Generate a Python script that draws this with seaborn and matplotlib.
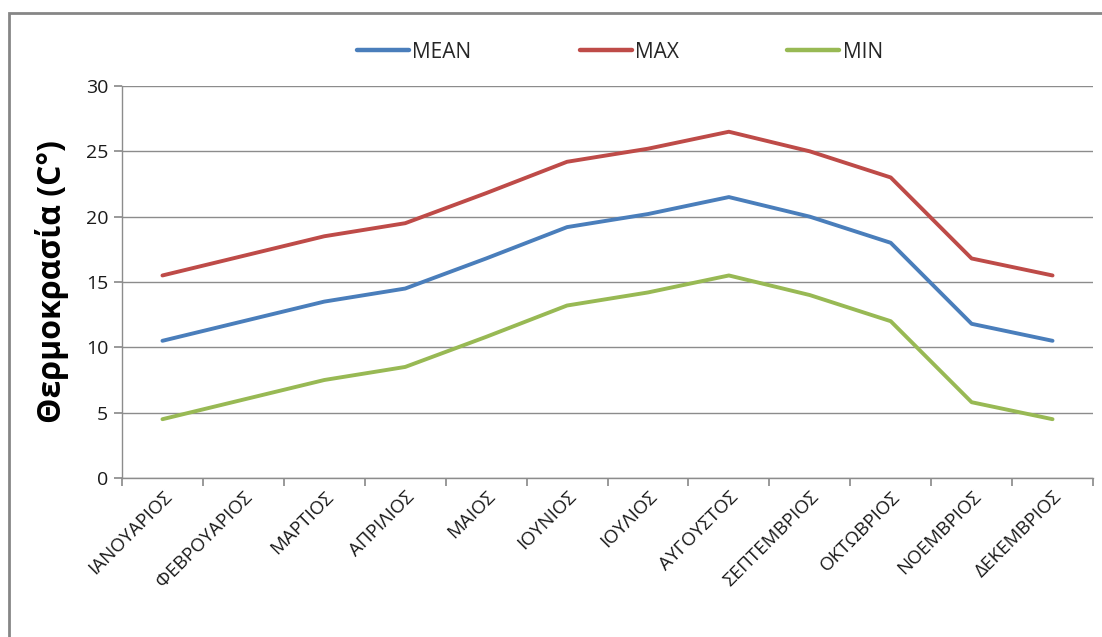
import matplotlib
matplotlib.use("Agg")
import matplotlib.pyplot as plt
import seaborn as sns
import pandas as pd
from matplotlib.patches import Rectangle
from matplotlib.lines import Line2D

months = ["ΙΑΝΟΥΑΡΙΟΣ", "ΦΕΒΡΟΥΑΡΙΟΣ", "ΜΑΡΤΙΟΣ", "ΑΠΡΙΛΙΟΣ", "ΜΑΙΟΣ", "ΙΟΥΝΙΟΣ",
          "ΙΟΥΛΙΟΣ", "ΑΥΓΟΥΣΤΟΣ", "ΣΕΠΤΕΜΒΡΙΟΣ", "ΟΚΤΩΒΡΙΟΣ", "ΝΟΕΜΒΡΙΟΣ", "ΔΕΚΕΜΒΡΙΟΣ"]
mean_vals = [10.5, 12.0, 13.5, 14.5, 16.8, 19.2, 20.2, 21.5, 20.0, 18.0, 11.8, 10.5]
max_vals = [15.5, 17.0, 18.5, 19.5, 21.8, 24.2, 25.2, 26.5, 25.0, 23.0, 16.8, 15.5]
min_vals = [4.5, 6.0, 7.5, 8.5, 10.8, 13.2, 14.2, 15.5, 14.0, 12.0, 5.8, 4.5]
series_names = ["MEAN", "MAX", "MIN"]
colors = ["#4A7EBB", "#BE4B48", "#98B954"]

sns.set_theme(style="white")
plt.rcParams['font.family'] = ['Open Sans', 'DejaVu Sans']

rows = []
for name, vals in zip(series_names, [mean_vals, max_vals, min_vals]):
    for i, v in enumerate(vals):
        rows.append({"idx": i, "month": months[i], "value": v, "series": name})
df = pd.DataFrame(rows)

fig = plt.figure(figsize=(11.02, 6.37), dpi=100)
ax = fig.add_axes([122/1102, (637-478)/637, (1093-122)/1102, (478-86)/637])

sns.lineplot(data=df, x="idx", y="value", hue="series", hue_order=series_names,
             palette=colors, linewidth=2.8, ax=ax, legend=False, sort=False)

ax.set_xlim(-0.5, 11.5)
ax.set_ylim(0, 30)
ax.set_yticks(range(0, 31, 5))
ax.yaxis.grid(True, color="#8C8C8C", linewidth=1.0)
ax.set_axisbelow(True)
for s in ["top", "right"]:
    ax.spines[s].set_visible(False)
for s in ["left", "bottom"]:
    ax.spines[s].set_color("#8C8C8C")
    ax.spines[s].set_linewidth(1.0)

# major ticks at category boundaries, labels on minor ticks at centers
ax.set_xticks([i - 0.5 for i in range(13)])
ax.set_xticklabels([])
ax.set_xticks(range(12), minor=True)
ax.set_xticklabels(months, minor=True, rotation=45, ha="right", rotation_mode="anchor",
                   fontsize=13.5, color="#1a1a1a")
ax.tick_params(axis="x", which="major", length=6, color="#8C8C8C", direction="out", bottom=True)
ax.tick_params(axis="x", which="minor", length=0, pad=7, bottom=True)
ax.tick_params(axis="y", length=6, color="#8C8C8C", direction="out", left=True,
               labelsize=14, labelcolor="#1a1a1a", pad=4)
ax.set_xlabel("")
ax.set_ylabel("Θερμοκρασία (C°)", fontsize=23, fontweight="bold", color="black", labelpad=12)

# legend
handles = [Line2D([0], [0], color=c, linewidth=3.2) for c in colors]
fig.legend(handles, series_names, loc="center", bbox_to_anchor=(620/1102, 1 - 52/637),
           ncol=3, frameon=False, fontsize=15, columnspacing=5.2, handlelength=2.5,
           handletextpad=0.15)

# outer chart border
fig.patches.append(Rectangle((9/1102, -0.05), 1.1, 1 - 13/637 + 0.05, transform=fig.transFigure,
                             fill=False, edgecolor="#868686", linewidth=2.0))

fig.savefig("out.png", dpi=100, facecolor="white")
